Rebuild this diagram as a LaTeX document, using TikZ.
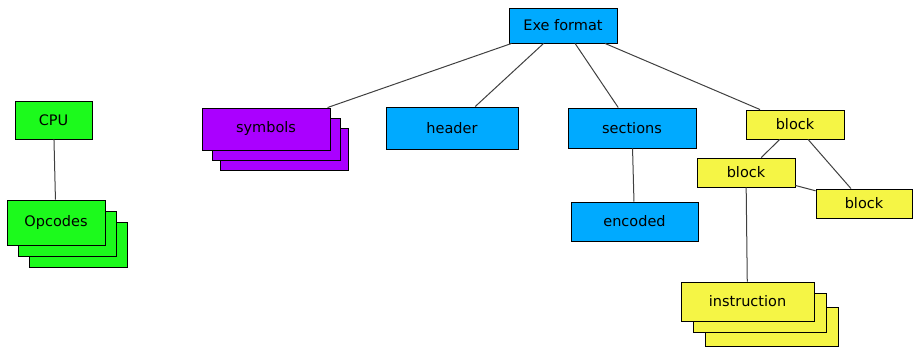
\documentclass[tikz,border=0pt]{standalone}
\usepackage{fontspec}
\setmainfont{DejaVu Sans}
\usetikzlibrary{positioning}

\definecolor{cpugreen}{HTML}{1CFA1C}
\definecolor{exeblue}{HTML}{00AAFF}
\definecolor{sympurple}{HTML}{AA00FF}
\definecolor{blkyellow}{HTML}{F5F545}

\begin{document}
\begin{tikzpicture}[x=1pt,y=-1pt,
    box/.style={rectangle,draw=black,line width=0.9pt,inner sep=0pt,
                font=\fontsize{14.5}{17}\selectfont},
    green box/.style={box,fill=cpugreen},
    blue box/.style={box,fill=exeblue},
    purple box/.style={box,fill=sympurple},
    yellow box/.style={box,fill=blkyellow},
    link/.style={draw=black!75,line width=1pt}]

  \useasboundingbox (0,0) rectangle (913,347);

  % CPU side
  \node[green box,minimum width=77pt,minimum height=38pt] (cpu) at (53.5,120) {CPU};
  \node[green box,minimum width=98pt,minimum height=45pt] (opcodes3) at (78,244.5) {};
  \node[green box,minimum width=98pt,minimum height=45pt] (opcodes2) at (67,233.5) {};
  \node[green box,minimum width=98pt,minimum height=45pt] (opcodes) at (56,222.5) {Opcodes};

  % exe format tree
  \node[blue box,minimum width=108pt,minimum height=35pt] (exe) at (563,25.5) {Exe format};
  \node[purple box,minimum width=128pt,minimum height=42pt] (symbols3) at (284,149) {};
  \node[purple box,minimum width=128pt,minimum height=42pt] (symbols2) at (276,139) {};
  \node[purple box,minimum width=128pt,minimum height=42pt] (symbols) at (266,129) {symbols};
  \node[blue box,minimum width=132pt,minimum height=42pt] (header) at (452,128) {header};
  \node[blue box,minimum width=128pt,minimum height=40pt] (sections) at (632,128) {sections};
  \node[blue box,minimum width=127pt,minimum height=39pt] (encoded) at (634.5,221.5) {encoded};

  % blocks
  \node[yellow box,minimum width=98pt,minimum height=29pt] (block) at (795,124.5) {block};
  \node[yellow box,minimum width=98pt,minimum height=29pt] (blockleft) at (746,172.5) {block};
  \node[yellow box,minimum width=96pt,minimum height=29pt] (blockright) at (864,203.5) {block};
  \node[yellow box,minimum width=133pt,minimum height=39pt] (instruction3) at (771.5,326.5) {};
  \node[yellow box,minimum width=133pt,minimum height=39pt] (instruction2) at (759.5,312.5) {};
  \node[yellow box,minimum width=133pt,minimum height=39pt] (instruction) at (747.5,301.5) {instruction};

  \path[link]
    (cpu) edge (opcodes)
    (exe) edge (symbols)
    (exe) edge (header)
    (exe) edge (sections)
    (exe) edge (block)
    (sections) edge (encoded)
    (block) edge (blockleft)
    (block) edge (blockright)
    (blockleft) edge (blockright)
    (blockleft) edge (instruction);
\end{tikzpicture}
\end{document}
